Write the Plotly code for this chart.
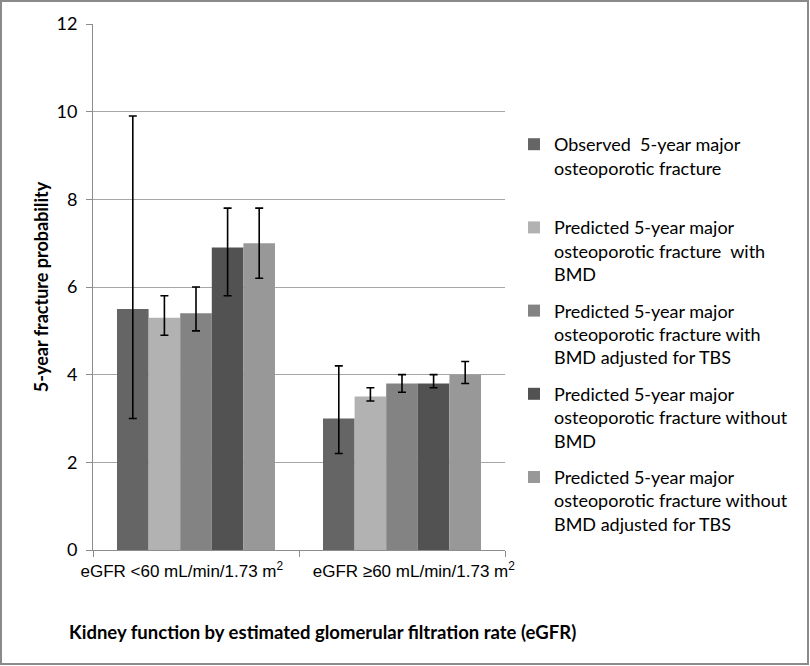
import plotly.graph_objects as go

categories = ["eGFR <60 mL/min/1.73 m<sup>2</sup>", "eGFR ≥60 mL/min/1.73 m<sup>2</sup>"]
series_names = [
    "Observed  5-year major<br>osteoporotic fracture<br> ",
    "Predicted 5-year major<br>osteoporotic fracture  with<br>BMD",
    "Predicted 5-year major<br>osteoporotic fracture with<br>BMD adjusted for TBS",
    "Predicted 5-year major<br>osteoporotic fracture without<br>BMD",
    "Predicted 5-year major<br>osteoporotic fracture without<br>BMD adjusted for TBS",
]
values = [
    [5.5, 3.0],
    [5.3, 3.5],
    [5.4, 3.8],
    [6.9, 3.8],
    [7.0, 4.0],
]
upper = [
    [9.9, 4.2],
    [5.8, 3.7],
    [6.0, 4.0],
    [7.8, 4.0],
    [7.8, 4.3],
]
lower = [
    [3.0, 2.2],
    [4.9, 3.4],
    [5.0, 3.6],
    [5.8, 3.7],
    [6.2, 3.8],
]
colors = ["#656565", "#b2b2b2", "#838383", "#525252", "#989898"]

fig = go.Figure()
for i, name in enumerate(series_names):
    fig.add_trace(go.Bar(
        x=categories,
        y=values[i],
        name=name,
        legendgroup=f"g{i}",
        marker=dict(color=colors[i], line=dict(width=0)),
        error_y=dict(
            type="data",
            symmetric=False,
            array=[u - v for u, v in zip(upper[i], values[i])],
            arrayminus=[v - l for v, l in zip(values[i], lower[i])],
            color="black",
            thickness=1.6,
            width=4,
        ),
    ))

L, R, T, B = 93, 305, 24, 116
W, H = 810, 666
pw, ph = W - L - R, H - T - B

def px_x(p):
    return (p - L) / pw

def px_y(p):
    return (H - B - p) / ph

NB = "\u00a0"
tick_text = [categories[0] + NB * 6, NB * 5 + categories[1]]

fig.update_layout(
    width=W, height=H,
    margin=dict(l=L, r=R, t=T, b=B, autoexpand=False),
    paper_bgcolor="white",
    plot_bgcolor="white",
    barmode="group",
    bargap=0.233,
    bargroupgap=0,
    font=dict(family="Lato, sans-serif", size=16, color="black"),
    legend=dict(
        x=px_x(514), y=px_y(126), xanchor="left", yanchor="top",
        valign="top",
        font=dict(family="Lato, sans-serif", size=18, color="black"),
        tracegroupgap=10,
        bgcolor="rgba(0,0,0,0)",
    ),
    xaxis=dict(
        showline=True, linecolor="#8c8c8c", linewidth=1,
        ticks="outside", tickson="boundaries", ticklen=6, tickcolor="#8c8c8c",
        tickfont=dict(family="Liberation Sans, Arial, sans-serif", size=17, color="black"),
        tickangle=0,
        tickmode="array", tickvals=categories, ticktext=tick_text,
        ticklabelstandoff=6,
        showgrid=False,
        automargin=False,
    ),
    yaxis=dict(
        range=[0, 12], dtick=2,
        showline=True, linecolor="#8c8c8c", linewidth=1,
        ticks="outside", ticklen=6, tickcolor="#8c8c8c",
        showgrid=True, gridcolor="#a6a6a6", gridwidth=1,
        zeroline=False,
        tickfont=dict(family="Lato, sans-serif", size=18, color="black"),
        ticklabelstandoff=5,
        automargin=False,
        title=dict(text="<b>5-year fracture probability</b>",
                   font=dict(family="Lato, sans-serif", size=18, color="black"),
                   standoff=3),
    ),
    annotations=[dict(
        text="<b>Kidney function by estimated glomerular filtration rate (eGFR)</b>",
        xref="paper", yref="paper", x=px_x(322), y=px_y(632),
        xanchor="center", yanchor="middle", showarrow=False,
        font=dict(family="Lato, sans-serif", size=18.5, color="black"),
    )],
    shapes=[dict(
        type="rect", xref="paper", yref="paper",
        x0=px_x(1), x1=px_x(808), y0=px_y(664), y1=px_y(1),
        line=dict(color="#8a8a8a", width=2), fillcolor="rgba(0,0,0,0)",
    )],
)

fig.write_html(
    "out.html",
    config={"displayModeBar": False},
    post_script="document.body.style.margin='0';document.body.style.padding='0';",
)
